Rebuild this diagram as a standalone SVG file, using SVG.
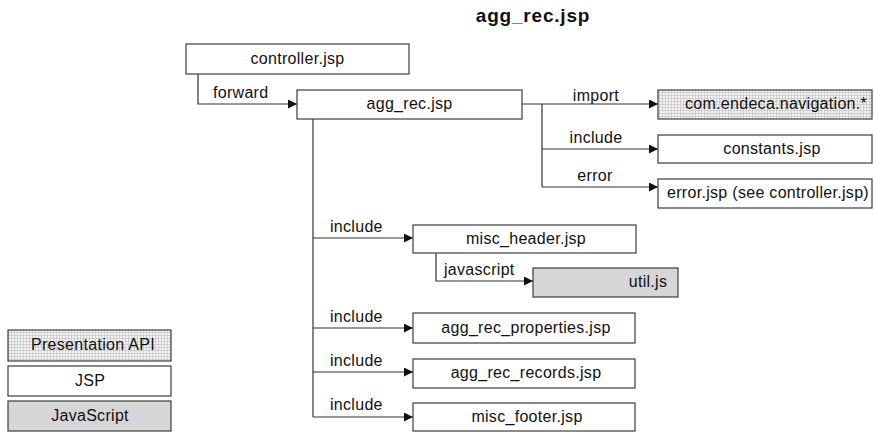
<svg xmlns="http://www.w3.org/2000/svg" width="874" height="432" viewBox="0 0 874 432">
<style>
.box{stroke:#3c3c3c;stroke-width:1.2;fill:#fff}
.api{fill:url(#dots)}
.js{fill:#d6d6d6}
.t{font-family:"Liberation Sans",Arial,sans-serif;font-size:16px;letter-spacing:0.3px;fill:#111;text-anchor:middle}
.l{font-family:"Liberation Sans",Arial,sans-serif;font-size:16px;letter-spacing:0.3px;fill:#111}
.c{stroke:#333;stroke-width:1.2;fill:none}
.a{marker-end:url(#arr)}
.title{font-family:"Liberation Sans",Arial,sans-serif;font-size:19px;font-weight:bold;letter-spacing:0.8px;fill:#111;text-anchor:middle}
</style>
<defs>
<pattern id="dots" width="3" height="3" patternUnits="userSpaceOnUse">
<rect width="3" height="3" fill="#cfcfcf"/>
<rect width="2" height="2" fill="#f4f4f4"/>
</pattern>
<marker id="arr" viewBox="0 0 10 10" refX="10" refY="5" markerWidth="9" markerHeight="9" markerUnits="userSpaceOnUse" orient="auto">
<path d="M0,0 L10,5 L0,10 z" fill="#111"/>
</marker>
</defs>
<text class="title" x="533" y="22">agg_rec.jsp</text>
<g id="connectors">
<path class="c a" d="M198,74 V104 H297"/>
<path class="c a" d="M522,104 H658"/>
<path class="c" d="M542,104 V187"/>
<path class="c a" d="M542,149 H658"/>
<path class="c a" d="M542,187 H658"/>
<path class="c" d="M313,119 V417"/>
<path class="c a" d="M313,238 H413"/>
<path class="c a" d="M313,328 H413"/>
<path class="c a" d="M313,372 H413"/>
<path class="c a" d="M313,417 H413"/>
<path class="c a" d="M436,253 V281 H533"/>
<text class="l" x="213" y="98">forward</text>
<text class="t" x="596" y="101">import</text>
<text class="t" x="596" y="143">include</text>
<text class="t" x="595" y="181">error</text>
<text class="l" x="330" y="232">include</text>
<text class="l" x="444" y="275">javascript</text>
<text class="l" x="330" y="322">include</text>
<text class="l" x="330" y="366">include</text>
<text class="l" x="330" y="410">include</text>
</g>
<g id="controller">
<rect class="box" x="186" y="44" width="223" height="30"/>
<text class="t" x="297.5" y="64">controller.jsp</text>
</g>
<g id="agg_rec">
<rect class="box" x="297" y="90" width="225" height="29"/>
<text class="t" x="409.5" y="109">agg_rec.jsp</text>
</g>
<g id="navigation">
<rect class="box api" x="658" y="90" width="214" height="29"/>
<text class="t" x="776" y="109">com.endeca.navigation.*</text>
</g>
<g id="constants">
<rect class="box" x="658" y="135" width="214" height="28"/>
<text class="t" x="772" y="154">constants.jsp</text>
</g>
<g id="error">
<rect class="box" x="658" y="179" width="214" height="29"/>
<text class="t" x="768" y="198">error.jsp (see controller.jsp)</text>
</g>
<g id="misc_header">
<rect class="box" x="413" y="225" width="223" height="28"/>
<text class="t" x="526" y="244">misc_header.jsp</text>
</g>
<g id="util">
<rect class="box js" x="533" y="268" width="145" height="29"/>
<text class="t" x="648" y="287">util.js</text>
</g>
<g id="agg_rec_properties">
<rect class="box" x="413" y="313" width="222" height="30"/>
<text class="t" x="526" y="333">agg_rec_properties.jsp</text>
</g>
<g id="agg_rec_records">
<rect class="box" x="413" y="359" width="222" height="29"/>
<text class="t" x="526" y="378">agg_rec_records.jsp</text>
</g>
<g id="misc_footer">
<rect class="box" x="413" y="403" width="222" height="28"/>
<text class="t" x="527" y="422">misc_footer.jsp</text>
</g>
<g id="legend_api">
<rect class="box api" x="8" y="330" width="163" height="31"/>
<text class="t" x="93" y="350">Presentation API</text>
</g>
<g id="legend_jsp">
<rect class="box" x="8" y="366" width="163" height="30"/>
<text class="t" x="90" y="386">JSP</text>
</g>
<g id="legend_js">
<rect class="box js" x="8" y="401" width="163" height="30"/>
<text class="t" x="90" y="421">JavaScript</text>
</g>
</svg>
